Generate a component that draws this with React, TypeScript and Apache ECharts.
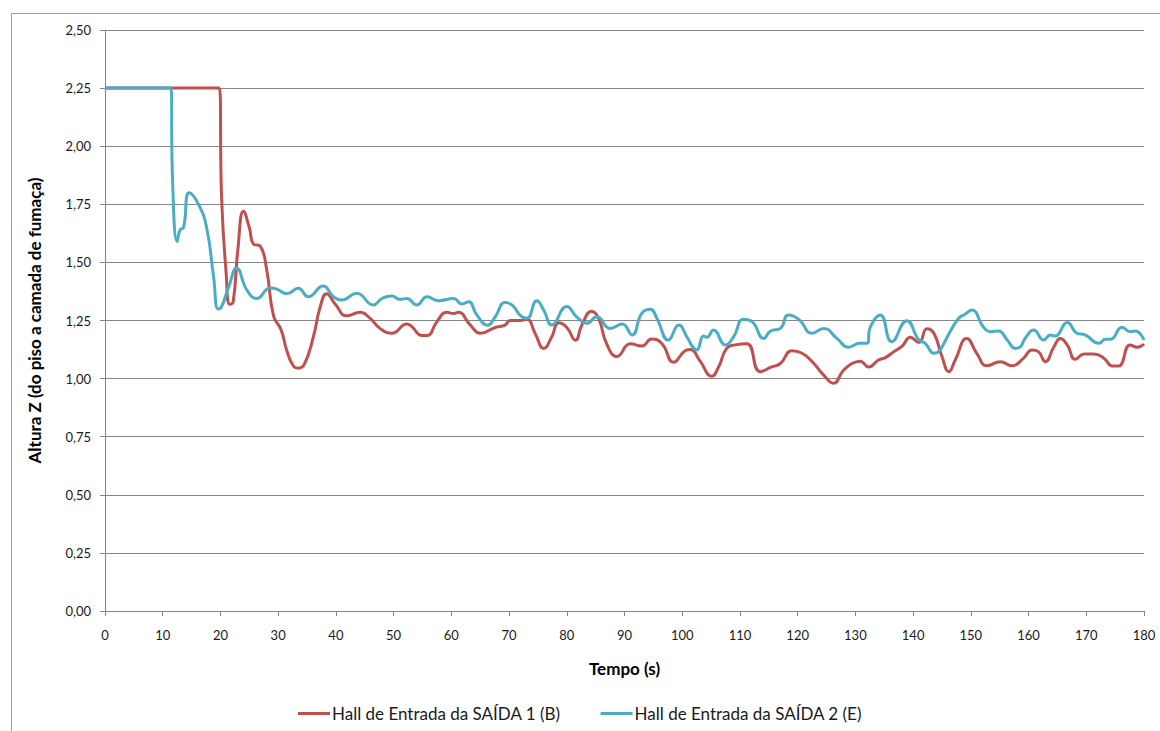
import React, { useEffect, useRef } from "react";
import * as echarts from "echarts";

const redTimes = [0, 19.8, 20.2, 21.0, 21.6, 22.2, 23.0, 24.0, 25.0, 25.7, 26.9, 28.0, 29.2, 30.5, 31.5, 32.6, 33.4, 34.5, 36.1, 37.3, 38.4, 39.9, 41.9, 44.2, 45.9, 47.7, 49.7, 52.3, 53.1, 54.9, 55.8, 57.5, 59.2, 60.4, 61.2, 63.3, 65.0, 67.6, 69.3, 70.2, 71.9, 73.1, 74.5, 76.0, 77.4, 78.6, 80.0, 81.5, 82.6, 84.3, 85.5, 86.9, 88.7, 91.0, 93.0, 94.7, 96.5, 98.5, 100.5, 101.4, 103.1, 105.1, 106.3, 107.7, 109.2, 111.2, 113.5, 115.5, 117.0, 119.0, 120.7, 122.8, 124.5, 126.2, 127.9, 129.4, 130.8, 132.3, 134.0, 135.2, 136.6, 138.1, 139.5, 141.0, 142.4, 143.6, 145.0, 146.2, 147.3, 149.3, 151.0, 152.8, 155.1, 157.1, 159.1, 160.6, 161.7, 162.9, 164.4, 165.5, 166.7, 168.1, 169.6, 171.3, 173.1, 174.5, 175.6, 177.6, 178.8, 180];
const redValues = [2.25, 2.25, 1.78, 1.45, 1.32, 1.33, 1.55, 1.72, 1.65, 1.58, 1.57, 1.47, 1.27, 1.21, 1.12, 1.055, 1.045, 1.06, 1.18, 1.31, 1.365, 1.32, 1.27, 1.285, 1.26, 1.215, 1.195, 1.235, 1.225, 1.185, 1.185, 1.245, 1.285, 1.28, 1.285, 1.23, 1.195, 1.22, 1.23, 1.25, 1.25, 1.255, 1.195, 1.13, 1.18, 1.24, 1.22, 1.165, 1.23, 1.29, 1.26, 1.15, 1.095, 1.15, 1.14, 1.17, 1.15, 1.07, 1.12, 1.125, 1.075, 1.01, 1.05, 1.13, 1.145, 1.15, 1.03, 1.05, 1.065, 1.12, 1.11, 1.065, 1.015, 0.98, 1.035, 1.065, 1.075, 1.05, 1.08, 1.09, 1.115, 1.14, 1.178, 1.155, 1.215, 1.195, 1.095, 1.03, 1.08, 1.173, 1.11, 1.055, 1.073, 1.055, 1.087, 1.123, 1.116, 1.073, 1.137, 1.173, 1.145, 1.083, 1.106, 1.106, 1.087, 1.054, 1.054, 1.145, 1.135, 1.149];

const blueTimes = [0, 11.4, 11.7, 12.5, 13.0, 13.6, 14.6, 16.2, 17.6, 18.8, 19.6, 20.2, 21.5, 22.8, 24.6, 26.3, 28.6, 29.8, 31.5, 33.5, 35.2, 37.8, 39.6, 41.0, 43.6, 46.5, 48.0, 49.7, 51.1, 52.3, 54.0, 55.8, 57.8, 60.4, 61.8, 63.0, 64.4, 66.3, 67.6, 69.3, 70.5, 72.2, 73.1, 74.8, 76.0, 77.4, 80.0, 81.7, 83.5, 85.2, 87.5, 89.6, 91.3, 93.0, 94.5, 95.6, 97.6, 99.4, 100.8, 101.8, 102.5, 103.7, 104.3, 105.4, 107.5, 108.9, 110.6, 112.1, 114.1, 115.3, 117.0, 118.4, 120.2, 122.5, 124.5, 126.8, 128.8, 130.8, 132.0, 132.6, 134.3, 136.3, 138.9, 141.0, 142.1, 143.6, 144.4, 146.4, 147.9, 149.0, 150.2, 152.2, 153.4, 154.8, 156.3, 157.7, 158.6, 159.4, 160.9, 162.6, 163.8, 164.6, 166.7, 168.4, 169.8, 172.2, 173.3, 174.2, 176.2, 177.6, 178.5, 180];
const blueValues = [2.25, 2.25, 1.86, 1.59, 1.64, 1.65, 1.8, 1.75, 1.65, 1.44, 1.3, 1.31, 1.4, 1.475, 1.38, 1.345, 1.39, 1.385, 1.365, 1.389, 1.352, 1.398, 1.352, 1.338, 1.367, 1.317, 1.345, 1.355, 1.341, 1.345, 1.317, 1.352, 1.335, 1.345, 1.321, 1.331, 1.274, 1.23, 1.266, 1.327, 1.317, 1.266, 1.26, 1.335, 1.295, 1.231, 1.31, 1.266, 1.238, 1.266, 1.216, 1.235, 1.188, 1.281, 1.298, 1.26, 1.166, 1.231, 1.18, 1.137, 1.123, 1.183, 1.178, 1.209, 1.145, 1.18, 1.255, 1.245, 1.173, 1.205, 1.216, 1.274, 1.255, 1.195, 1.216, 1.173, 1.135, 1.152, 1.152, 1.223, 1.274, 1.159, 1.249, 1.166, 1.152, 1.109, 1.116, 1.202, 1.26, 1.277, 1.295, 1.221, 1.202, 1.205, 1.166, 1.13, 1.137, 1.173, 1.209, 1.166, 1.188, 1.183, 1.241, 1.195, 1.188, 1.152, 1.169, 1.169, 1.221, 1.202, 1.205, 1.166];

const seriesNames = ["Hall de Entrada da SAÍDA 1 (B)", "Hall de Entrada da SAÍDA 2 (E)"];
const xTitle = "Tempo (s)";
const yTitle = "Altura Z (do piso a camada de fumaça)";

const zip = (t: number[], v: number[]) => t.map((x, i) => [x, v[i]]);

export default function App() {
  const ref = useRef<HTMLDivElement>(null);
  useEffect(() => {
    if (!ref.current) return;
    const chart = echarts.init(ref.current, undefined, { renderer: "svg" });
    const font = "Lato, 'Open Sans', sans-serif";
    chart.setOption({
      animation: false,
      backgroundColor: "#ffffff",
      textStyle: { fontFamily: font },
      graphic: [
        {
          type: "rect",
          shape: { x: 11.5, y: 13.5, width: 1160, height: 740 },
          style: { fill: "none", stroke: "#9a9a9a", lineWidth: 1 },
          silent: true,
        },
      ],
      grid: { left: 105, right: 16, top: 30, bottom: 120, containLabel: false },
      legend: {
        bottom: 4,
        left: "center",
        itemWidth: 32,
        itemHeight: 3,
        itemGap: 40,
        icon: "rect",
        textStyle: { fontFamily: font, fontSize: 17, color: "#1a1a1a", padding: [0, 0, 0, -3] },
        data: seriesNames,
      },
      xAxis: {
        type: "value",
        min: 0,
        max: 180,
        interval: 10,
        name: xTitle,
        nameLocation: "middle",
        nameGap: 49,
        nameTextStyle: { fontFamily: font, fontSize: 17, fontWeight: "bold", color: "#000" },
        axisLine: { show: true, lineStyle: { color: "#868686", width: 1 } },
        axisTick: { show: true, inside: false, length: 5, lineStyle: { color: "#868686" } },
        axisLabel: { fontFamily: font, fontSize: 13, color: "#1a1a1a", margin: 17 },
        splitLine: { show: false },
      },
      yAxis: {
        type: "value",
        min: 0,
        max: 2.5,
        interval: 0.25,
        name: yTitle,
        nameLocation: "middle",
        nameRotate: 90,
        nameGap: 62,
        nameTextStyle: { fontFamily: font, fontSize: 17, fontWeight: "bold", color: "#000" },
        axisLine: { show: true, lineStyle: { color: "#868686", width: 1 } },
        axisTick: { show: true, inside: false, length: 5, lineStyle: { color: "#868686" } },
        axisLabel: {
          fontFamily: font,
          fontSize: 13,
          color: "#1a1a1a",
          margin: 14,
          formatter: (v: number) => v.toFixed(2).replace(".", ","),
        },
        splitLine: { show: true, lineStyle: { color: "#868686", width: 1 } },
      },
      series: [
        {
          name: seriesNames[0],
          type: "line",
          data: zip(redTimes, redValues),
          showSymbol: false,
          smooth: 0.5,
          lineStyle: { color: "#C0504D", width: 3 },
          itemStyle: { color: "#C0504D" },
        },
        {
          name: seriesNames[1],
          type: "line",
          data: zip(blueTimes, blueValues),
          showSymbol: false,
          smooth: 0.5,
          lineStyle: { color: "#4BACC6", width: 3 },
          itemStyle: { color: "#4BACC6" },
        },
      ],
    });
    return () => chart.dispose();
  }, []);
  return (
    <div
      ref={ref}
      style={{ position: "fixed", left: 0, top: 0, width: 1160, height: 731 }}
    />
  );
}
